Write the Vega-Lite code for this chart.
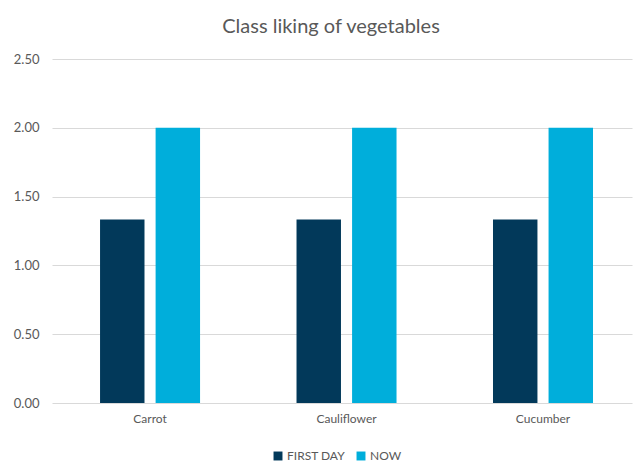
{
  "$schema": "https://vega.github.io/schema/vega-lite/v6.json",
  "width": 580,
  "height": 344,
  "autosize": "none",
  "padding": {"left": 52, "top": 59, "right": 2, "bottom": 59},
  "background": "white",
  "title": {
    "text": "Class liking of vegetables",
    "font": "Lato",
    "fontSize": 20,
    "fontWeight": "normal",
    "color": "#595959",
    "offset": 16,
    "dx": -11
  },
  "data": {
    "values": [
      {"vegetable": "Carrot", "series": "FIRST DAY", "value": 1.333},
      {"vegetable": "Carrot", "series": "NOW", "value": 2.0},
      {"vegetable": "Cauliflower", "series": "FIRST DAY", "value": 1.333},
      {"vegetable": "Cauliflower", "series": "NOW", "value": 2.0},
      {"vegetable": "Cucumber", "series": "FIRST DAY", "value": 1.333},
      {"vegetable": "Cucumber", "series": "NOW", "value": 2.0}
    ]
  },
  "mark": {"type": "bar"},
  "encoding": {
    "x": {
      "field": "vegetable",
      "type": "nominal",
      "sort": null,
      "scale": {"paddingInner": 0.491, "paddingOuter": 0.2215, "align": 0.552},
      "axis": {
        "title": null,
        "labelAngle": 0,
        "domain": false,
        "ticks": false,
        "labelFont": "Lato",
        "labelFontSize": 12,
        "labelColor": "#595959",
        "labelPadding": 10
      }
    },
    "xOffset": {
      "field": "series",
      "type": "nominal",
      "scale": {"paddingInner": 0.2}
    },
    "y": {
      "field": "value",
      "type": "quantitative",
      "scale": {"domain": [0, 2.5]},
      "axis": {
        "title": null,
        "values": [0, 0.5, 1, 1.5, 2, 2.5],
        "format": ".2f",
        "domain": false,
        "ticks": false,
        "gridColor": "#d9d9d9",
        "gridWidth": 1,
        "labelFont": "Lato",
        "labelFontSize": 13,
        "labelColor": "#595959",
        "labelPadding": 13
      }
    },
    "color": {
      "field": "series",
      "type": "nominal",
      "scale": {"domain": ["FIRST DAY", "NOW"], "range": ["#02395A", "#00AEDB"]},
      "legend": {
        "title": null,
        "orient": "none",
        "legendX": 220,
        "legendY": 391,
        "direction": "horizontal",
        "symbolType": "square",
        "symbolSize": 80,
        "symbolStrokeWidth": 0,
        "labelFont": "Lato",
        "labelFontSize": 12,
        "labelColor": "#595959",
        "columnPadding": 10,
        "labelOffset": 3
      }
    }
  },
  "config": {"view": {"stroke": null}}
}
